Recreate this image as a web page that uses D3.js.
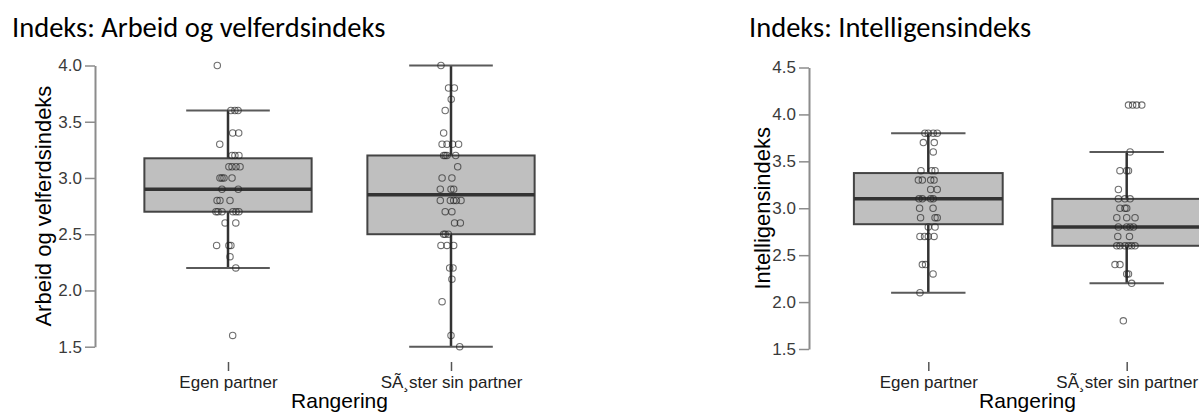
<!DOCTYPE html>
<html>
<head>
<meta charset="utf-8">
<script src="https://cdn.jsdelivr.net/npm/d3@7"></script>
<style>
  body { margin: 0; background: #fff; }
  svg { display: block; }
</style>
</head>
<body>
<div id="chart"></div>
<script>
// categories
var groups = ["Egen partner", "SÃ¸ster sin partner"];

// box stats: [whisker low, q1, median, q3, whisker high]
var arbeidBoxes = [[2.2, 2.7, 2.9, 3.175, 3.6], [1.5, 2.5, 2.85, 3.2, 4.0]];
var intelBoxes = [[2.1, 2.83, 3.1, 3.375, 3.8], [2.2, 2.6, 2.8, 3.1, 3.6]];

// jittered points, value + jitter (percent of group step)
var arbeidEgenVals = [4.0, 3.6, 3.6, 3.6, 3.4, 3.4, 3.3, 3.2, 3.2, 3.2, 3.1, 3.1, 3.1, 3.1, 3.0, 3.0, 3.0, 3.0, 2.9, 2.9, 2.8, 2.8, 2.8, 2.7, 2.7, 2.7, 2.7, 2.7, 2.7, 2.6, 2.6, 2.4, 2.4, 2.4, 2.3, 2.2, 1.6];
var arbeidEgenJit = [-4.8, 1.3, 3.1, 4.5, 2.1, 4.8, -3.7, 1.8, 3.1, 4.9, 0.4, 1.8, 3.6, 5.4, -3.6, -2.7, -1.8, 1.8, -2.7, 4.6, -4.9, -3.6, 0.9, -5.4, -4.5, -2.7, 2.2, 3.6, 4.9, -1.3, 3.5, -5.1, 0.4, 1.3, 0.9, 3.5, 2.1];
var arbeidSosterVals = [4.0, 3.8, 3.8, 3.7, 3.6, 3.4, 3.3, 3.3, 3.3, 3.3, 3.2, 3.2, 3.2, 3.2, 3.1, 3.0, 3.0, 2.9, 2.9, 2.9, 2.8, 2.8, 2.8, 2.8, 2.8, 2.7, 2.7, 2.6, 2.6, 2.5, 2.5, 2.5, 2.4, 2.4, 2.4, 2.2, 2.2, 2.1, 1.9, 1.6, 1.5];
var arbeidSosterJit = [-4.5, -1.1, 1.5, 0.1, -2.6, -3.3, -4.0, -1.8, 0.7, 3.4, -3.3, -2.6, -1.8, 2.1, 3.0, -4.0, 0.4, -4.8, 0, 1.2, -4.8, -0.3, 1.2, 2.4, 4.5, -2.6, 0.4, 1.6, 4.2, -3.3, -2.6, -1.2, -4.5, -1.8, 1.2, -0.6, 0.9, 0.4, -4.0, 0, 3.9];
var intelEgenVals = [3.8, 3.8, 3.8, 3.8, 3.7, 3.7, 3.6, 3.4, 3.4, 3.4, 3.3, 3.3, 3.3, 3.3, 3.2, 3.2, 3.1, 3.1, 3.1, 3.1, 3.0, 3.0, 2.9, 2.9, 2.9, 2.8, 2.8, 2.7, 2.7, 2.7, 2.7, 2.4, 2.4, 2.3, 2.1];
var intelEgenJit = [-1.7, 0, 2.5, 4.5, -2.5, 3.0, 2.5, -3.7, 1.7, 3.4, -5.0, -3.0, 1.2, 2.9, 1.2, 4.5, -4.7, -3.0, 1.2, 2.5, -4.4, 2.4, -3.9, 3.4, 4.5, 0, 3.4, -4.2, -1.9, 0, 2.9, -3.0, -1.4, 2.4, -4.2];
var intelSosterVals = [4.1, 4.1, 4.1, 4.1, 3.6, 3.4, 3.4, 3.4, 3.2, 3.1, 3.1, 3.1, 3.0, 3.0, 3.0, 2.9, 2.9, 2.9, 2.8, 2.8, 2.8, 2.8, 2.7, 2.7, 2.6, 2.6, 2.6, 2.6, 2.6, 2.6, 2.4, 2.4, 2.3, 2.3, 2.2, 1.8];
var intelSosterJit = [0.9, 3.0, 5.0, 7.6, 1.7, -3.4, 0, 0.9, -4.2, -4.2, -0.9, 1.7, -3.4, -0.9, 0, -5.0, 0, 4.2, -4.2, 0, 1.7, 3.4, -4.5, 1.4, -5.0, -3.4, -0.9, 0.9, 2.5, 4.2, -5.9, -3.4, 0, 0.9, 2.5, -1.7];

// tick labels
var arbeidTicks = [1.5, 2.0, 2.5, 3.0, 3.5, 4.0];
var intelTicks = [1.5, 2.0, 2.5, 3.0, 3.5, 4.0, 4.5];

var svgWidth = 1199, svgHeight = 414;

var svg = d3.select("#chart")
  .append("svg")
  .attr("width", svgWidth)
  .attr("height", svgHeight);

function drawPanel(p) {
  var g = svg.append("g");

  // title
  g.append("text")
    .attr("x", p.titleX)
    .attr("y", 37)
    .attr("font-family", "Carlito, Lato, 'Open Sans', sans-serif")
    .attr("font-size", "28.5px")
    .attr("fill", "#000")
    .text(p.title);

  var yScale = d3.scaleLinear().domain(p.yDomain).range(p.yRange);
  var xScale = d3.scalePoint().domain(groups).range(p.xRange).padding(0.5);
  var step = xScale.step();
  var jitScale = d3.scaleLinear().domain([-100, 100]).range([-step, step]);
  var boxW = step * 0.75, capHalf = step * 0.1875;

  // y axis
  var yAxis = d3.axisLeft(yScale)
    .tickValues(p.ticks)
    .tickFormat(d3.format(".1f"))
    .tickSize(10)
    .tickSizeOuter(0)
    .tickPadding(3);

  var ya = g.append("g")
    .attr("transform", `translate(${p.axisX},0)`)
    .call(yAxis);
  ya.select(".domain").attr("stroke", "#8c8c8c").attr("stroke-width", 2);
  ya.selectAll(".tick line").attr("stroke", "#8c8c8c").attr("stroke-width", 1.5);
  ya.selectAll(".tick text")
    .attr("font-family", "'Liberation Sans', Arial, sans-serif")
    .attr("font-size", "17px")
    .attr("fill", "#3a3a3a");

  // y title
  g.append("text")
    .attr("transform", `translate(${p.yTitleX},${(p.yRange[0] + p.yRange[1]) / 2}) rotate(-90)`)
    .attr("text-anchor", "middle")
    .attr("font-family", "'Liberation Sans', Arial, sans-serif")
    .attr("font-size", "22px")
    .attr("fill", "#000")
    .text(p.yTitle);

  // x axis (ticks only)
  var xAxis = d3.axisBottom(xScale).tickSize(9).tickSizeOuter(0).tickPadding(5);
  var xa = g.append("g")
    .attr("transform", "translate(0,362)")
    .call(xAxis);
  xa.select(".domain").remove();
  xa.selectAll(".tick line").attr("stroke", "#555").attr("stroke-width", 1.5);
  xa.selectAll(".tick text")
    .attr("font-family", "'Liberation Sans', Arial, sans-serif")
    .attr("font-size", "17px")
    .attr("fill", "#222");

  g.append("text")
    .attr("x", (xScale(groups[0]) + xScale(groups[1])) / 2)
    .attr("y", 408)
    .attr("text-anchor", "middle")
    .attr("font-family", "'Liberation Sans', Arial, sans-serif")
    .attr("font-size", "21px")
    .attr("fill", "#000")
    .text("Rangering");

  // boxes
  var boxes = g.selectAll(".box")
    .data(p.boxes)
    .enter()
    .append("g")
    .attr("class", "box");

  boxes.append("line")
    .attr("x1", (d, i) => xScale(groups[i]))
    .attr("x2", (d, i) => xScale(groups[i]))
    .attr("y1", d => yScale(d[0]))
    .attr("y2", d => yScale(d[4]))
    .attr("stroke", "#333")
    .attr("stroke-width", 2.5);

  boxes.append("rect")
    .attr("x", (d, i) => xScale(groups[i]) - boxW / 2)
    .attr("width", boxW)
    .attr("y", d => yScale(d[3]))
    .attr("height", d => yScale(d[1]) - yScale(d[3]))
    .attr("fill", "#bfbfbf")
    .attr("stroke", "#444")
    .attr("stroke-width", 2);

  boxes.append("line")
    .attr("x1", (d, i) => xScale(groups[i]) - boxW / 2)
    .attr("x2", (d, i) => xScale(groups[i]) + boxW / 2)
    .attr("y1", d => yScale(d[2]))
    .attr("y2", d => yScale(d[2]))
    .attr("stroke", "#333")
    .attr("stroke-width", 3.5);

  [0, 4].forEach(function(k) {
    boxes.append("line")
      .attr("x1", (d, i) => xScale(groups[i]) - capHalf)
      .attr("x2", (d, i) => xScale(groups[i]) + capHalf)
      .attr("y1", d => yScale(d[k]))
      .attr("y2", d => yScale(d[k]))
      .attr("stroke", "#5a5a5a")
      .attr("stroke-width", 2);
  });

  // points
  p.points.forEach(function(pt, i) {
    var rows = pt.vals.map((v, j) => ({v: v, j: pt.jit[j]}));
    g.append("g").selectAll("circle")
      .data(rows)
      .enter()
      .append("circle")
      .attr("cx", d => xScale(groups[i]) + jitScale(d.j))
      .attr("cy", d => yScale(d.v))
      .attr("r", 3.2)
      .attr("fill", "none")
      .attr("stroke", "#222")
      .attr("stroke-opacity", 0.65)
      .attr("stroke-width", 1.1);
  });
}

drawPanel({
  title: "Indeks: Arbeid og velferdsindeks",
  titleX: 12,
  yTitle: "Arbeid og velferdsindeks",
  yTitleX: 51,
  yDomain: [1.5, 4.0],
  yRange: [346.7, 65.5],
  ticks: arbeidTicks,
  axisX: 95,
  xRange: [116.5, 562.5],
  boxes: arbeidBoxes,
  points: [
    {vals: arbeidEgenVals, jit: arbeidEgenJit},
    {vals: arbeidSosterVals, jit: arbeidSosterJit}
  ]
});

drawPanel({
  title: "Indeks: Intelligensindeks",
  titleX: 749,
  yTitle: "Intelligensindeks",
  yTitleX: 770,
  yDomain: [1.5, 4.5],
  yRange: [349, 67.5],
  ticks: intelTicks,
  axisX: 809,
  xRange: [829.1, 1225.9],
  boxes: intelBoxes,
  points: [
    {vals: intelEgenVals, jit: intelEgenJit},
    {vals: intelSosterVals, jit: intelSosterJit}
  ]
});
</script>
</body>
</html>
